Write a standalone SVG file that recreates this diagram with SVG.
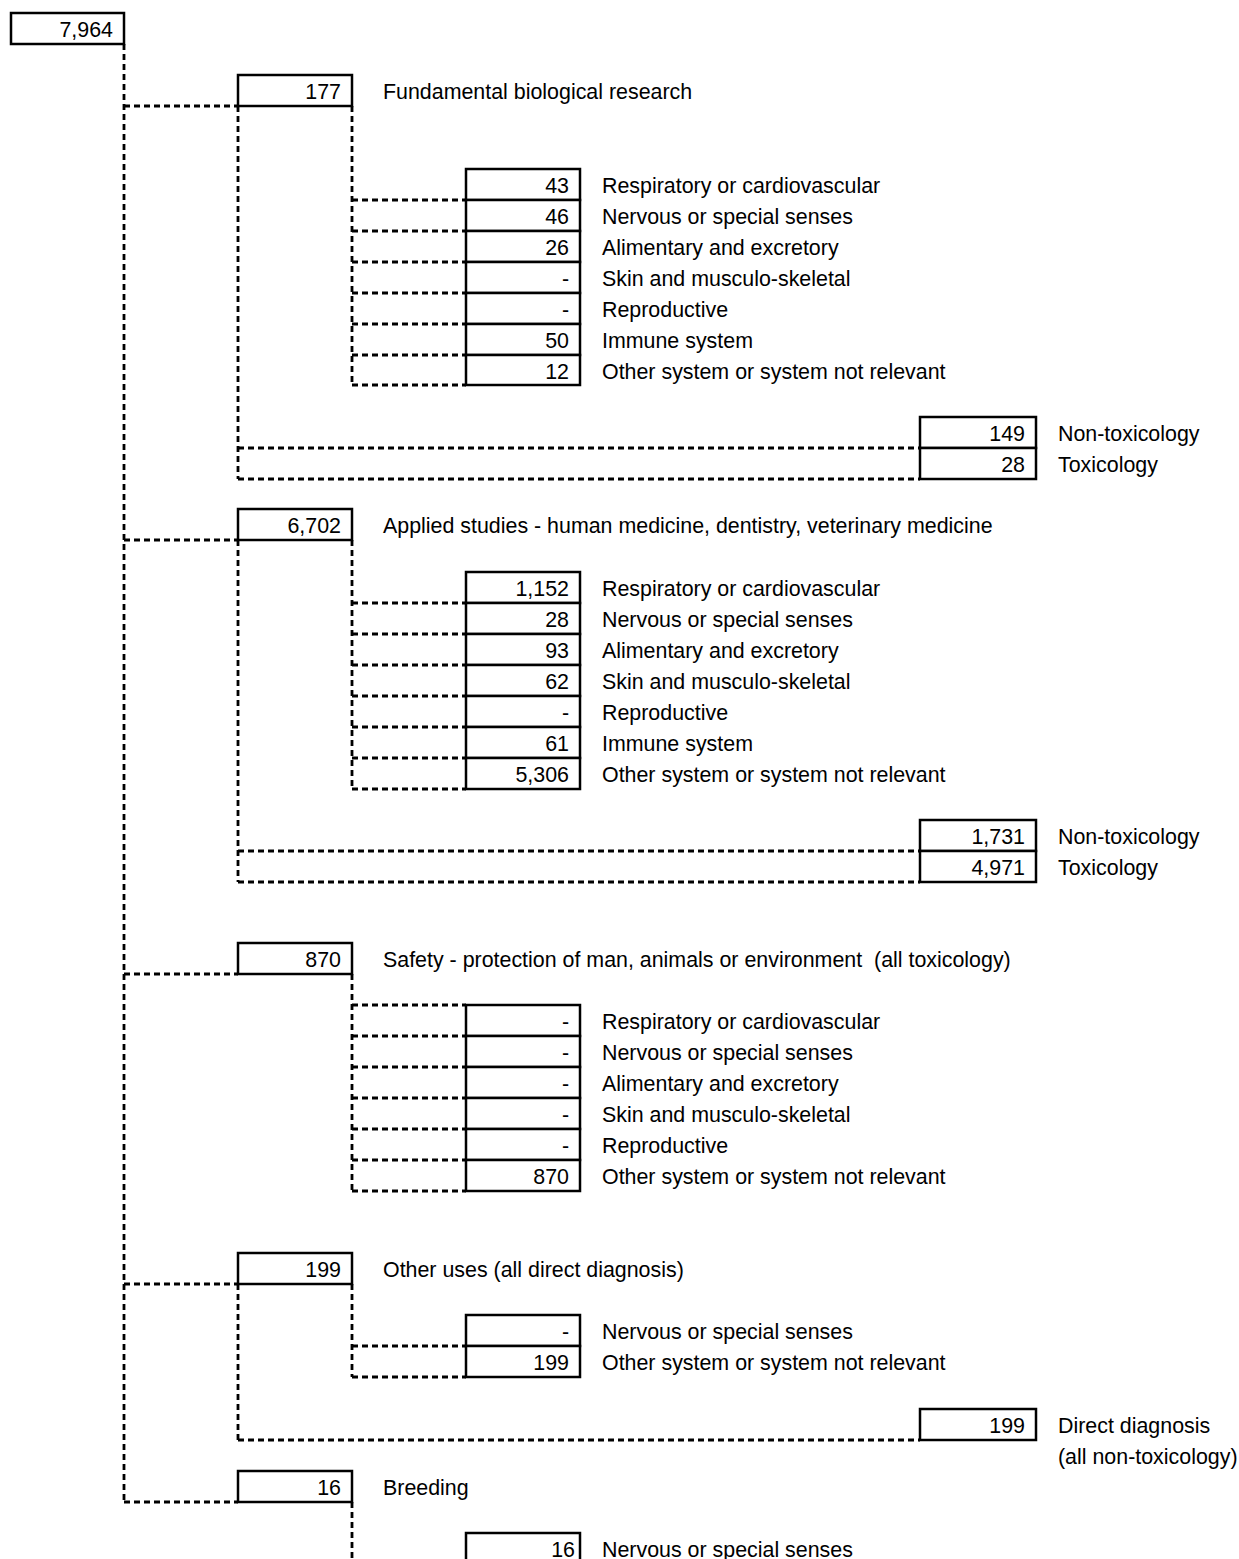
<svg xmlns="http://www.w3.org/2000/svg" width="1239" height="1559" viewBox="0 0 1239 1559">
<style>
.bg{fill:#fff}
.box{fill:#fff;stroke:#000;stroke-width:2.5}
.c{fill:none;stroke:#000;stroke-width:2.8;stroke-dasharray:6 4}
text{font-family:"Liberation Sans",Arial,sans-serif;font-size:21.4px;fill:#000}
.n{text-anchor:end}
.pre{white-space:pre}
</style>
<rect class="bg" x="0" y="0" width="1239" height="1559"/>
<g id="connectors">
<path class="c" d="M124 44V1502"/>
<path class="c" d="M124 106H238M238 106V479M352 106V385"/>
<path class="c" d="M352 200H466M352 231H466M352 262H466M352 293H466M352 324H466M352 355H466M352 385H466"/>
<path class="c" d="M238 448H920M238 479H920"/>
<path class="c" d="M124 540H238M238 540V882M352 540V789"/>
<path class="c" d="M352 603H466M352 634H466M352 665H466M352 696H466M352 727H466M352 758H466M352 789H466"/>
<path class="c" d="M238 851H920M238 882H920"/>
<path class="c" d="M124 974H238M352 974V1191"/>
<path class="c" d="M352 1005H466M352 1036H466M352 1067H466M352 1098H466M352 1129H466M352 1160H466M352 1191H466"/>
<path class="c" d="M124 1284H238M238 1284V1440M352 1284V1377"/>
<path class="c" d="M352 1346H466M352 1377H466"/>
<path class="c" d="M238 1440H920"/>
<path class="c" d="M124 1502H238M352 1502V1559"/>
</g>
<g id="total"><rect class="box" x="11" y="13" width="113" height="31"/><text class="n" x="113" y="37">7,964</text></g>

<g id="fundamental">
<rect class="box" x="238" y="75" width="114" height="31"/><text class="n" x="341" y="99">177</text>
<text x="383" y="99">Fundamental biological research</text>
</g>
<g id="fundamental-systems">
<rect class="box" x="466" y="169" width="114" height="31"/><text class="n" x="569" y="193">43</text><text x="602" y="193">Respiratory or cardiovascular</text>
<rect class="box" x="466" y="200" width="114" height="31"/><text class="n" x="569" y="224">46</text><text x="602" y="224">Nervous or special senses</text>
<rect class="box" x="466" y="231" width="114" height="31"/><text class="n" x="569" y="255">26</text><text x="602" y="255">Alimentary and excretory</text>
<rect class="box" x="466" y="262" width="114" height="31"/><text class="n" x="569" y="286">-</text><text x="602" y="286">Skin and musculo-skeletal</text>
<rect class="box" x="466" y="293" width="114" height="31"/><text class="n" x="569" y="317">-</text><text x="602" y="317">Reproductive</text>
<rect class="box" x="466" y="324" width="114" height="31"/><text class="n" x="569" y="348">50</text><text x="602" y="348">Immune system</text>
<rect class="box" x="466" y="355" width="114" height="30"/><text class="n" x="569" y="379">12</text><text x="602" y="379">Other system or system not relevant</text>
</g>
<g id="fundamental-tox">
<rect class="box" x="920" y="417" width="116" height="31"/><text class="n" x="1025" y="441">149</text><text x="1058" y="441">Non-toxicology</text>
<rect class="box" x="920" y="448" width="116" height="31"/><text class="n" x="1025" y="472">28</text><text x="1058" y="472">Toxicology</text>
</g>

<g id="applied">
<rect class="box" x="238" y="509" width="114" height="31"/><text class="n" x="341" y="533">6,702</text>
<text x="383" y="533">Applied studies - human medicine, dentistry, veterinary medicine</text>
</g>
<g id="applied-systems">
<rect class="box" x="466" y="572" width="114" height="31"/><text class="n" x="569" y="596">1,152</text><text x="602" y="596">Respiratory or cardiovascular</text>
<rect class="box" x="466" y="603" width="114" height="31"/><text class="n" x="569" y="627">28</text><text x="602" y="627">Nervous or special senses</text>
<rect class="box" x="466" y="634" width="114" height="31"/><text class="n" x="569" y="658">93</text><text x="602" y="658">Alimentary and excretory</text>
<rect class="box" x="466" y="665" width="114" height="31"/><text class="n" x="569" y="689">62</text><text x="602" y="689">Skin and musculo-skeletal</text>
<rect class="box" x="466" y="696" width="114" height="31"/><text class="n" x="569" y="720">-</text><text x="602" y="720">Reproductive</text>
<rect class="box" x="466" y="727" width="114" height="31"/><text class="n" x="569" y="751">61</text><text x="602" y="751">Immune system</text>
<rect class="box" x="466" y="758" width="114" height="31"/><text class="n" x="569" y="782">5,306</text><text x="602" y="782">Other system or system not relevant</text>
</g>
<g id="applied-tox">
<rect class="box" x="920" y="820" width="116" height="31"/><text class="n" x="1025" y="844">1,731</text><text x="1058" y="844">Non-toxicology</text>
<rect class="box" x="920" y="851" width="116" height="31"/><text class="n" x="1025" y="875">4,971</text><text x="1058" y="875">Toxicology</text>
</g>

<g id="safety">
<rect class="box" x="238" y="943" width="114" height="31"/><text class="n" x="341" y="967">870</text>
<text class="pre" x="383" y="967">Safety - protection of man, animals or environment  (all toxicology)</text>
</g>
<g id="safety-systems">
<rect class="box" x="466" y="1005" width="114" height="31"/><text class="n" x="569" y="1029">-</text><text x="602" y="1029">Respiratory or cardiovascular</text>
<rect class="box" x="466" y="1036" width="114" height="31"/><text class="n" x="569" y="1060">-</text><text x="602" y="1060">Nervous or special senses</text>
<rect class="box" x="466" y="1067" width="114" height="31"/><text class="n" x="569" y="1091">-</text><text x="602" y="1091">Alimentary and excretory</text>
<rect class="box" x="466" y="1098" width="114" height="31"/><text class="n" x="569" y="1122">-</text><text x="602" y="1122">Skin and musculo-skeletal</text>
<rect class="box" x="466" y="1129" width="114" height="31"/><text class="n" x="569" y="1153">-</text><text x="602" y="1153">Reproductive</text>
<rect class="box" x="466" y="1160" width="114" height="31"/><text class="n" x="569" y="1184">870</text><text x="602" y="1184">Other system or system not relevant</text>
</g>

<g id="other-uses">
<rect class="box" x="238" y="1253" width="114" height="31"/><text class="n" x="341" y="1277">199</text>
<text x="383" y="1277">Other uses (all direct diagnosis)</text>
</g>
<g id="other-uses-systems">
<rect class="box" x="466" y="1315" width="114" height="31"/><text class="n" x="569" y="1339">-</text><text x="602" y="1339">Nervous or special senses</text>
<rect class="box" x="466" y="1346" width="114" height="31"/><text class="n" x="569" y="1370">199</text><text x="602" y="1370">Other system or system not relevant</text>
</g>
<g id="other-uses-diagnosis">
<rect class="box" x="920" y="1409" width="116" height="31"/><text class="n" x="1025" y="1433">199</text>
<text x="1058" y="1433">Direct diagnosis</text><text x="1058" y="1464">(all non-toxicology)</text>
</g>

<g id="breeding">
<rect class="box" x="238" y="1471" width="114" height="31"/><text class="n" x="341" y="1495">16</text>
<text x="383" y="1495">Breeding</text>
</g>
<g id="breeding-systems">
<rect class="box" x="466" y="1533" width="114" height="40"/><text class="n" x="575" y="1557">16</text><text x="602" y="1557">Nervous or special senses</text>
</g>
</svg>
